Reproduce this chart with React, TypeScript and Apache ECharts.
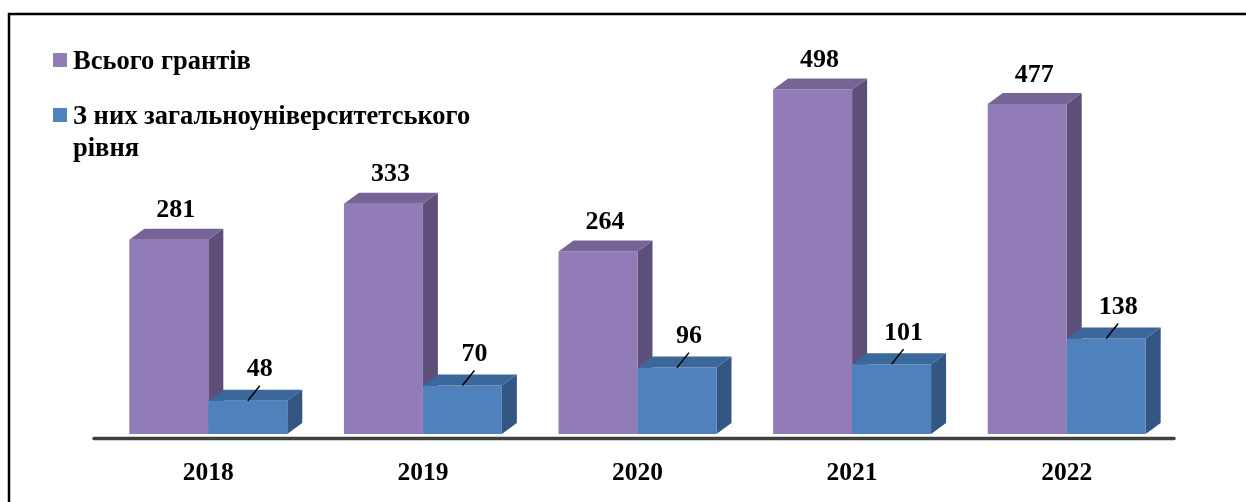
import React, { useEffect, useRef } from "react";
import * as echarts from "echarts";

const categories = ["2018", "2019", "2020", "2021", "2022"];
const seriesNames = ["Всього грантів", "З них загальноуніверситетського рівня"];
const legendLines = [["Всього грантів"], ["З них загальноуніверситетського", "рівня"]];
const totalGrants = [281, 333, 264, 498, 477];
const universityGrants = [48, 70, 96, 101, 138];

const FONT = "'Liberation Serif', 'Times New Roman', serif";
const COLORS = [
  { front: "#917CB7", top: "#766496", side: "#5E4E7A" },
  { front: "#4F81BD", top: "#3C679B", side: "#335682" },
];
const DX = 15;
const DY = -11;

function makeRender(sideIdx: number) {
  return (params: any, api: any) => {
    const idx = api.value(0);
    const val = api.value(1);
    const base = api.coord([idx, 0]);
    const topP = api.coord([idx, val]);
    const band = api.size([1, 0])[0];
    const w = band * 0.368;
    const x0 = sideIdx === 0 ? base[0] - w : base[0];
    const x1 = x0 + w;
    const yb = base[1];
    const yt = topP[1];
    const c = COLORS[sideIdx];
    const cx = (x0 + x1) / 2;
    const children: any[] = [
      {
        type: "polygon",
        shape: { points: [[x1, yb], [x1, yt], [x1 + DX, yt + DY], [x1 + DX, yb + DY]] },
        style: { fill: c.side },
      },
      {
        type: "rect",
        shape: { x: x0, y: yt, width: w, height: yb - yt },
        style: { fill: c.front },
      },
      {
        type: "polygon",
        shape: { points: [[x0, yt], [x0 + DX, yt + DY], [x1 + DX, yt + DY], [x1, yt]] },
        style: { fill: c.top },
      },
    ];
    if (sideIdx === 0) {
      children.push({
        type: "text",
        style: {
          text: String(val),
          x: cx + 7,
          y: yt - 31,
          align: "center",
          verticalAlign: "middle",
          fontFamily: FONT,
          fontWeight: "bold",
          fontSize: 26,
          fill: "#000",
        },
      });
    } else {
      children.push({
        type: "line",
        shape: { x1: cx, y1: yt, x2: cx + 12, y2: yt - 15 },
        style: { stroke: "#000", lineWidth: 1.5 },
      });
      children.push({
        type: "text",
        style: {
          text: String(val),
          x: cx + 12,
          y: yt - 33,
          align: "center",
          verticalAlign: "middle",
          fontFamily: FONT,
          fontWeight: "bold",
          fontSize: 26,
          fill: "#000",
        },
      });
    }
    return { type: "group", children };
  };
}

export default function App() {
  const ref = useRef<HTMLDivElement>(null);
  useEffect(() => {
    if (!ref.current) return;
    const chart = echarts.init(ref.current, null, { renderer: "svg" });
    const legendGraphics: any[] = [];
    const legendTops = [60, 115];
    legendLines.forEach((lines, i) => {
      legendGraphics.push({
        type: "rect",
        shape: { x: 53, y: legendTops[i] - 7, width: 14, height: 14 },
        style: { fill: COLORS[i].front },
      });
      lines.forEach((t, j) => {
        legendGraphics.push({
          type: "text",
          style: {
            text: t,
            x: 73,
            y: legendTops[i] + j * 32,
            verticalAlign: "middle",
            fontFamily: FONT,
            fontWeight: "bold",
            fontSize: 26.5,
            fill: "#000",
          },
        });
      });
    });
    chart.setOption({
      animation: false,
      grid: { left: 101, right: 72, top: 19, bottom: 68 },
      xAxis: {
        type: "category",
        data: categories,
        axisLine: { show: false },
        axisTick: { show: false },
        axisLabel: {
          margin: 24,
          fontFamily: FONT,
          fontWeight: "bold",
          fontSize: 25.5,
          color: "#000",
        },
      },
      yAxis: {
        type: "value",
        min: 0,
        max: 600,
        show: false,
        splitLine: { show: false },
      },
      graphic: [
        {
          type: "rect",
          shape: { x: 9, y: 14, width: 1400, height: 700 },
          style: { fill: "none", stroke: "#000", lineWidth: 2.5 },
          silent: true,
        },
        {
          type: "line",
          shape: { x1: 94, y1: 438.5, x2: 1174, y2: 438.5 },
          style: { stroke: "#404040", lineWidth: 3.5, lineCap: "round" },
          silent: true,
        },
        ...legendGraphics,
      ],
      series: [
        {
          type: "custom",
          name: seriesNames[0],
          renderItem: makeRender(0),
          data: totalGrants.map((v, i) => [i, v]),
          encode: { x: 0, y: 1 },
        },
        {
          type: "custom",
          name: seriesNames[1],
          renderItem: makeRender(1),
          data: universityGrants.map((v, i) => [i, v]),
          encode: { x: 0, y: 1 },
        },
      ],
    });
    return () => chart.dispose();
  }, []);
  return (
    <div
      ref={ref}
      style={{ position: "fixed", left: 0, top: 0, width: 1246, height: 502 }}
    />
  );
}
